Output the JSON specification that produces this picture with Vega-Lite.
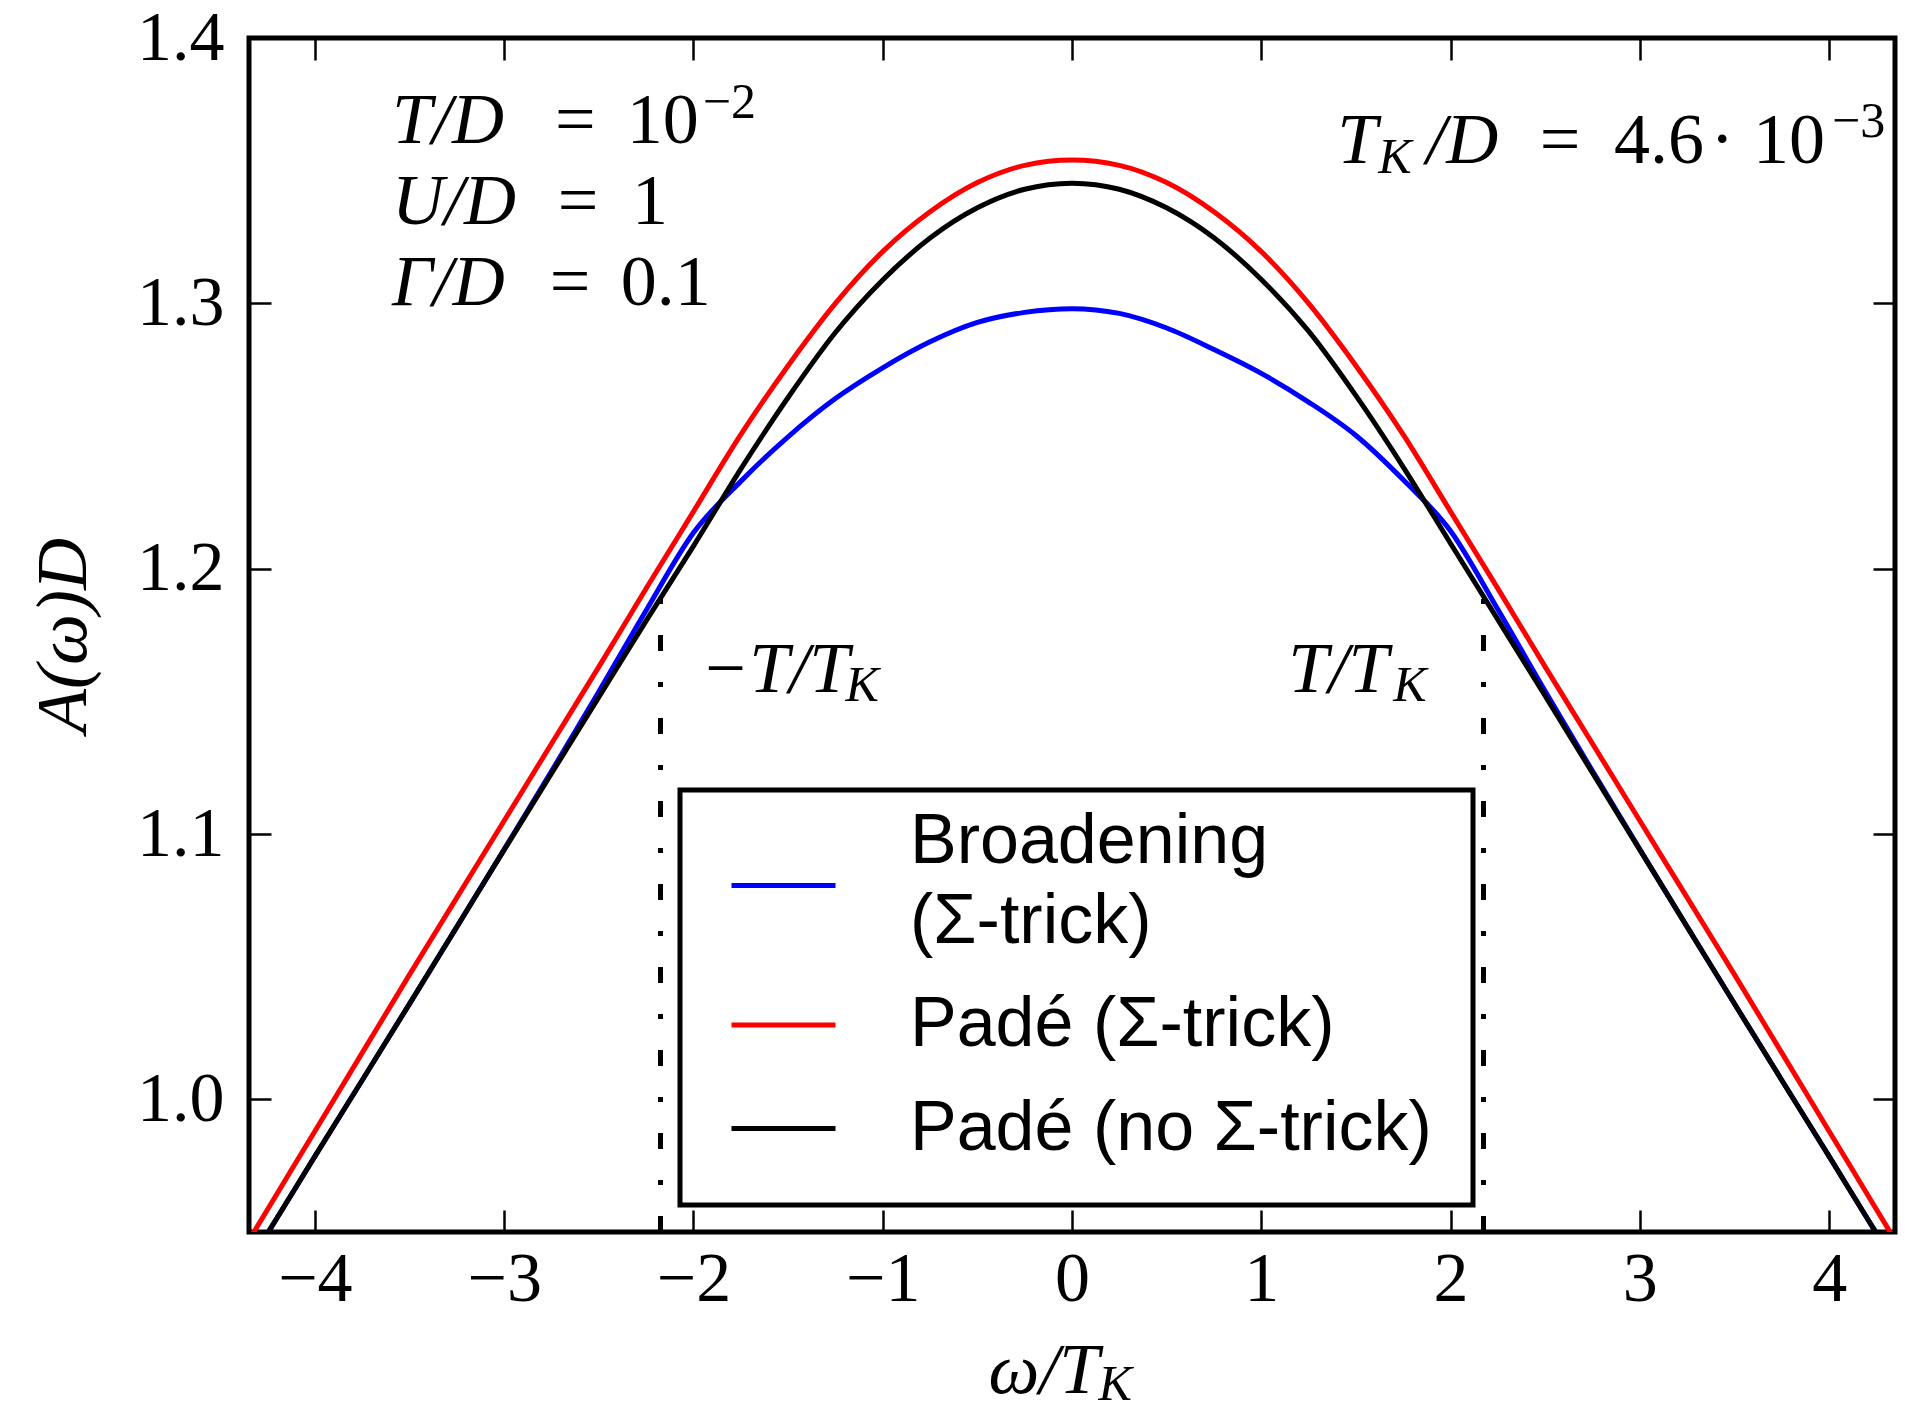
{
  "$schema": "https://vega.github.io/schema/vega-lite/v6.json",
  "width": 1646,
  "height": 1194,
  "autosize": {"type": "none"},
  "padding": {"left": 249, "top": 38, "right": 10, "bottom": 180},
  "background": "white",
  "config": {
    "view": {"stroke": "black", "strokeWidth": 5},
    "axis": {
      "domain": false, "grid": false, "tickColor": "black", "tickWidth": 2.5, "tickSize": -22,
      "labelFont": "Liberation Serif", "labelFontSize": 70, "labelColor": "black",
      "labelFlush": false, "labelOverlap": false, "labelBound": false,
      "titleFont": "Liberation Serif", "titleFontSize": 72, "titleFontStyle": "italic",
      "titleFontWeight": "normal", "titleColor": "black"
    },
    "text": {"color": "black", "font": "Liberation Serif", "fontSize": 72, "align": "left", "baseline": "alphabetic"}
  },
  "datasets": {
    "curves": [
      {"s": "Broadening (Σ-trick)", "w": -4.5, "A": 0.921},
      {"s": "Broadening (Σ-trick)", "w": -4.25, "A": 0.9495},
      {"s": "Broadening (Σ-trick)", "w": -4.0, "A": 0.9785},
      {"s": "Broadening (Σ-trick)", "w": -3.75, "A": 1.0072},
      {"s": "Broadening (Σ-trick)", "w": -3.5, "A": 1.036},
      {"s": "Broadening (Σ-trick)", "w": -3.25, "A": 1.065},
      {"s": "Broadening (Σ-trick)", "w": -3.0, "A": 1.0942},
      {"s": "Broadening (Σ-trick)", "w": -2.75, "A": 1.1236},
      {"s": "Broadening (Σ-trick)", "w": -2.5, "A": 1.1536},
      {"s": "Broadening (Σ-trick)", "w": -2.25, "A": 1.1842},
      {"s": "Broadening (Σ-trick)", "w": -2.0, "A": 1.2135},
      {"s": "Broadening (Σ-trick)", "w": -1.75, "A": 1.2329},
      {"s": "Broadening (Σ-trick)", "w": -1.5, "A": 1.2497},
      {"s": "Broadening (Σ-trick)", "w": -1.25, "A": 1.2641},
      {"s": "Broadening (Σ-trick)", "w": -1.0, "A": 1.2757},
      {"s": "Broadening (Σ-trick)", "w": -0.75, "A": 1.2855},
      {"s": "Broadening (Σ-trick)", "w": -0.5, "A": 1.2928},
      {"s": "Broadening (Σ-trick)", "w": -0.25, "A": 1.2966},
      {"s": "Broadening (Σ-trick)", "w": 0.0, "A": 1.298},
      {"s": "Broadening (Σ-trick)", "w": 0.25, "A": 1.2962},
      {"s": "Broadening (Σ-trick)", "w": 0.5, "A": 1.2907},
      {"s": "Broadening (Σ-trick)", "w": 0.75, "A": 1.2826},
      {"s": "Broadening (Σ-trick)", "w": 1.0, "A": 1.2736},
      {"s": "Broadening (Σ-trick)", "w": 1.25, "A": 1.2628},
      {"s": "Broadening (Σ-trick)", "w": 1.5, "A": 1.2502},
      {"s": "Broadening (Σ-trick)", "w": 1.75, "A": 1.2335},
      {"s": "Broadening (Σ-trick)", "w": 2.0, "A": 1.2142},
      {"s": "Broadening (Σ-trick)", "w": 2.25, "A": 1.1846},
      {"s": "Broadening (Σ-trick)", "w": 2.5, "A": 1.1538},
      {"s": "Broadening (Σ-trick)", "w": 2.75, "A": 1.1237},
      {"s": "Broadening (Σ-trick)", "w": 3.0, "A": 1.0942},
      {"s": "Broadening (Σ-trick)", "w": 3.25, "A": 1.065},
      {"s": "Broadening (Σ-trick)", "w": 3.5, "A": 1.036},
      {"s": "Broadening (Σ-trick)", "w": 3.75, "A": 1.0072},
      {"s": "Broadening (Σ-trick)", "w": 4.0, "A": 0.9785},
      {"s": "Broadening (Σ-trick)", "w": 4.25, "A": 0.9495},
      {"s": "Broadening (Σ-trick)", "w": 4.5, "A": 0.921},
      {"s": "Padé (Σ-trick)", "w": -4.5, "A": 0.929},
      {"s": "Padé (Σ-trick)", "w": -4.25, "A": 0.9585},
      {"s": "Padé (Σ-trick)", "w": -4.0, "A": 0.988},
      {"s": "Padé (Σ-trick)", "w": -3.75, "A": 1.0175},
      {"s": "Padé (Σ-trick)", "w": -3.5, "A": 1.047},
      {"s": "Padé (Σ-trick)", "w": -3.25, "A": 1.076},
      {"s": "Padé (Σ-trick)", "w": -3.0, "A": 1.105},
      {"s": "Padé (Σ-trick)", "w": -2.75, "A": 1.134},
      {"s": "Padé (Σ-trick)", "w": -2.5, "A": 1.163},
      {"s": "Padé (Σ-trick)", "w": -2.25, "A": 1.1925},
      {"s": "Padé (Σ-trick)", "w": -2.0, "A": 1.2215},
      {"s": "Padé (Σ-trick)", "w": -1.75, "A": 1.2505},
      {"s": "Padé (Σ-trick)", "w": -1.5, "A": 1.2765},
      {"s": "Padé (Σ-trick)", "w": -1.25, "A": 1.300},
      {"s": "Padé (Σ-trick)", "w": -1.0, "A": 1.3195},
      {"s": "Padé (Σ-trick)", "w": -0.75, "A": 1.3345},
      {"s": "Padé (Σ-trick)", "w": -0.5, "A": 1.3455},
      {"s": "Padé (Σ-trick)", "w": -0.25, "A": 1.352},
      {"s": "Padé (Σ-trick)", "w": 0.0, "A": 1.354},
      {"s": "Padé (Σ-trick)", "w": 0.25, "A": 1.352},
      {"s": "Padé (Σ-trick)", "w": 0.5, "A": 1.3455},
      {"s": "Padé (Σ-trick)", "w": 0.75, "A": 1.3345},
      {"s": "Padé (Σ-trick)", "w": 1.0, "A": 1.3195},
      {"s": "Padé (Σ-trick)", "w": 1.25, "A": 1.300},
      {"s": "Padé (Σ-trick)", "w": 1.5, "A": 1.2765},
      {"s": "Padé (Σ-trick)", "w": 1.75, "A": 1.2505},
      {"s": "Padé (Σ-trick)", "w": 2.0, "A": 1.2215},
      {"s": "Padé (Σ-trick)", "w": 2.25, "A": 1.1925},
      {"s": "Padé (Σ-trick)", "w": 2.5, "A": 1.163},
      {"s": "Padé (Σ-trick)", "w": 2.75, "A": 1.134},
      {"s": "Padé (Σ-trick)", "w": 3.0, "A": 1.105},
      {"s": "Padé (Σ-trick)", "w": 3.25, "A": 1.076},
      {"s": "Padé (Σ-trick)", "w": 3.5, "A": 1.047},
      {"s": "Padé (Σ-trick)", "w": 3.75, "A": 1.0175},
      {"s": "Padé (Σ-trick)", "w": 4.0, "A": 0.988},
      {"s": "Padé (Σ-trick)", "w": 4.25, "A": 0.9585},
      {"s": "Padé (Σ-trick)", "w": 4.5, "A": 0.929},
      {"s": "Padé (no Σ-trick)", "w": -4.5, "A": 0.921},
      {"s": "Padé (no Σ-trick)", "w": -4.25, "A": 0.9495},
      {"s": "Padé (no Σ-trick)", "w": -4.0, "A": 0.9785},
      {"s": "Padé (no Σ-trick)", "w": -3.75, "A": 1.0072},
      {"s": "Padé (no Σ-trick)", "w": -3.5, "A": 1.036},
      {"s": "Padé (no Σ-trick)", "w": -3.25, "A": 1.065},
      {"s": "Padé (no Σ-trick)", "w": -3.0, "A": 1.094},
      {"s": "Padé (no Σ-trick)", "w": -2.75, "A": 1.1228},
      {"s": "Padé (no Σ-trick)", "w": -2.5, "A": 1.1516},
      {"s": "Padé (no Σ-trick)", "w": -2.25, "A": 1.1803},
      {"s": "Padé (no Σ-trick)", "w": -2.0, "A": 1.2085},
      {"s": "Padé (no Σ-trick)", "w": -1.75, "A": 1.2375},
      {"s": "Padé (no Σ-trick)", "w": -1.5, "A": 1.2645},
      {"s": "Padé (no Σ-trick)", "w": -1.25, "A": 1.289},
      {"s": "Padé (no Σ-trick)", "w": -1.0, "A": 1.3088},
      {"s": "Padé (no Σ-trick)", "w": -0.75, "A": 1.3246},
      {"s": "Padé (no Σ-trick)", "w": -0.5, "A": 1.336},
      {"s": "Padé (no Σ-trick)", "w": -0.25, "A": 1.343},
      {"s": "Padé (no Σ-trick)", "w": 0.0, "A": 1.3453},
      {"s": "Padé (no Σ-trick)", "w": 0.25, "A": 1.343},
      {"s": "Padé (no Σ-trick)", "w": 0.5, "A": 1.336},
      {"s": "Padé (no Σ-trick)", "w": 0.75, "A": 1.3247},
      {"s": "Padé (no Σ-trick)", "w": 1.0, "A": 1.309},
      {"s": "Padé (no Σ-trick)", "w": 1.25, "A": 1.2895},
      {"s": "Padé (no Σ-trick)", "w": 1.5, "A": 1.2652},
      {"s": "Padé (no Σ-trick)", "w": 1.75, "A": 1.2383},
      {"s": "Padé (no Σ-trick)", "w": 2.0, "A": 1.2095},
      {"s": "Padé (no Σ-trick)", "w": 2.25, "A": 1.1808},
      {"s": "Padé (no Σ-trick)", "w": 2.5, "A": 1.152},
      {"s": "Padé (no Σ-trick)", "w": 2.75, "A": 1.123},
      {"s": "Padé (no Σ-trick)", "w": 3.0, "A": 1.094},
      {"s": "Padé (no Σ-trick)", "w": 3.25, "A": 1.065},
      {"s": "Padé (no Σ-trick)", "w": 3.5, "A": 1.036},
      {"s": "Padé (no Σ-trick)", "w": 3.75, "A": 1.0072},
      {"s": "Padé (no Σ-trick)", "w": 4.0, "A": 0.9785},
      {"s": "Padé (no Σ-trick)", "w": 4.25, "A": 0.9495},
      {"s": "Padé (no Σ-trick)", "w": 4.5, "A": 0.921}
    ],
    "tmarks": [{"w": -2.174}, {"w": 2.174}]
  },
  "layer": [
    {
      "data": {"name": "curves"},
      "transform": [{"filter": "datum.s == 'Broadening (Σ-trick)'"}],
      "mark": {"type": "line", "strokeWidth": 5, "clip": true, "interpolate": "monotone"},
      "encoding": {
        "x": {"field": "w", "type": "quantitative",
              "scale": {"domain": [-4.348, 4.348], "nice": false, "zero": false},
              "axis": {"orient": "bottom", "values": [-4, -3, -2, -1, 0, 1, 2, 3, 4], "format": "d", "title": null, "labelPadding": 35}},
        "y": {"field": "A", "type": "quantitative",
              "scale": {"domain": [0.95, 1.4], "nice": false, "zero": false},
              "axis": {"orient": "left", "values": [1.0, 1.1, 1.2, 1.3, 1.4], "format": ".1f", "title": "A(ω)D", "labelPadding": 47, "titlePadding": 36}},
        "color": {"field": "s", "type": "nominal",
                  "scale": {"domain": ["Broadening (Σ-trick)", "Padé (Σ-trick)", "Padé (no Σ-trick)"], "range": ["#0000ff", "#ff0000", "#000000"]},
                  "legend": {
                    "orient": "none", "legendX": 431, "legendY": 752, "title": null,
                    "strokeColor": "black", "padding": 41, "fillColor": "white",
                    "labelFont": "Liberation Sans", "labelFontSize": 70, "labelColor": "black", "labelLimit": 2000,
                    "labelOffset": 72, "rowPadding": 13.5, "symbolOffset": 8,
                    "symbolType": "stroke", "symbolSize": 10816, "symbolStrokeWidth": 5,
                    "labelExpr": "datum.value == 'Broadening (Σ-trick)' ? ['Broadening', '(Σ-trick)'] : datum.label",
                    "encode": {
                      "legend": {"update": {"strokeWidth": {"value": 5}}},
                      "labels": {"update": {
                        "dy": {"signal": "datum.value == 'Broadening (Σ-trick)' ? -44 : 0"},
                        "lineHeight": {"value": 80}
                      }}
                    }
                  }}
      }
    },
    {
      "data": {"name": "curves"},
      "transform": [{"filter": "datum.s == 'Padé (Σ-trick)'"}],
      "mark": {"type": "line", "strokeWidth": 5, "clip": true, "interpolate": "monotone"},
      "encoding": {
        "x": {"field": "w", "type": "quantitative",
              "axis": {"orient": "top", "values": [-4, -3, -2, -1, 0, 1, 2, 3, 4], "labels": false, "title": null}},
        "y": {"field": "A", "type": "quantitative",
              "axis": {"orient": "right", "values": [1.0, 1.1, 1.2, 1.3, 1.4], "labels": false, "title": null}},
        "color": {"field": "s", "type": "nominal"}
      }
    },
    {
      "data": {"name": "curves"},
      "transform": [{"filter": "datum.s == 'Padé (no Σ-trick)'"}],
      "mark": {"type": "line", "strokeWidth": 5, "clip": true, "interpolate": "monotone"},
      "encoding": {
        "x": {"field": "w", "type": "quantitative", "axis": null},
        "y": {"field": "A", "type": "quantitative", "axis": null},
        "color": {"field": "s", "type": "nominal"}
      }
    },
    {
      "data": {"name": "tmarks"},
      "mark": {"type": "rule", "color": "black", "strokeWidth": 5, "strokeDash": [16, 31, 5, 31], "strokeCap": "butt"},
      "encoding": {
        "x": {"field": "w", "type": "quantitative", "axis": null},
        "y": {"datum": 0.95, "type": "quantitative", "axis": null},
        "y2": {"datum": 1.189}
      }
    },
    {"data": {"values": [{}]}, "mark": {"type": "text", "text": "T/D", "fontStyle": "italic"},
     "encoding": {"x": {"datum": -3.593, "type": "quantitative", "axis": null}, "y": {"datum": 1.3604, "type": "quantitative", "axis": null}}},
    {"data": {"values": [{}]}, "mark": {"type": "text", "text": "="},
     "encoding": {"x": {"datum": -2.732, "type": "quantitative", "axis": null}, "y": {"datum": 1.3604, "type": "quantitative", "axis": null}}},
    {"data": {"values": [{}]}, "mark": {"type": "text", "text": "10"},
     "encoding": {"x": {"datum": -2.352, "type": "quantitative", "axis": null}, "y": {"datum": 1.3604, "type": "quantitative", "axis": null}}},
    {"data": {"values": [{}]}, "mark": {"type": "text", "text": "−2", "fontSize": 50},
     "encoding": {"x": {"datum": -1.951, "type": "quantitative", "axis": null}, "y": {"datum": 1.3698, "type": "quantitative", "axis": null}}},
    {"data": {"values": [{}]}, "mark": {"type": "text", "text": "U/D", "fontStyle": "italic"},
     "encoding": {"x": {"datum": -3.593, "type": "quantitative", "axis": null}, "y": {"datum": 1.3299, "type": "quantitative", "axis": null}}},
    {"data": {"values": [{}]}, "mark": {"type": "text", "text": "="},
     "encoding": {"x": {"datum": -2.717, "type": "quantitative", "axis": null}, "y": {"datum": 1.3299, "type": "quantitative", "axis": null}}},
    {"data": {"values": [{}]}, "mark": {"type": "text", "text": "1"},
     "encoding": {"x": {"datum": -2.325, "type": "quantitative", "axis": null}, "y": {"datum": 1.3299, "type": "quantitative", "axis": null}}},
    {"data": {"values": [{}]}, "mark": {"type": "text", "text": "Γ/D", "fontStyle": "italic"},
     "encoding": {"x": {"datum": -3.593, "type": "quantitative", "axis": null}, "y": {"datum": 1.2994, "type": "quantitative", "axis": null}}},
    {"data": {"values": [{}]}, "mark": {"type": "text", "text": "="},
     "encoding": {"x": {"datum": -2.759, "type": "quantitative", "axis": null}, "y": {"datum": 1.2994, "type": "quantitative", "axis": null}}},
    {"data": {"values": [{}]}, "mark": {"type": "text", "text": "0.1"},
     "encoding": {"x": {"datum": -2.384, "type": "quantitative", "axis": null}, "y": {"datum": 1.2994, "type": "quantitative", "axis": null}}},
    {"data": {"values": [{}]}, "mark": {"type": "text", "text": "T", "fontStyle": "italic"},
     "encoding": {"x": {"datum": 1.402, "type": "quantitative", "axis": null}, "y": {"datum": 1.3529, "type": "quantitative", "axis": null}}},
    {"data": {"values": [{}]}, "mark": {"type": "text", "text": "K", "fontStyle": "italic", "fontSize": 50},
     "encoding": {"x": {"datum": 1.618, "type": "quantitative", "axis": null}, "y": {"datum": 1.3491, "type": "quantitative", "axis": null}}},
    {"data": {"values": [{}]}, "mark": {"type": "text", "text": "/D", "fontStyle": "italic"},
     "encoding": {"x": {"datum": 1.872, "type": "quantitative", "axis": null}, "y": {"datum": 1.3529, "type": "quantitative", "axis": null}}},
    {"data": {"values": [{}]}, "mark": {"type": "text", "text": "="},
     "encoding": {"x": {"datum": 2.471, "type": "quantitative", "axis": null}, "y": {"datum": 1.3529, "type": "quantitative", "axis": null}}},
    {"data": {"values": [{}]}, "mark": {"type": "text", "text": "4.6"},
     "encoding": {"x": {"datum": 2.864, "type": "quantitative", "axis": null}, "y": {"datum": 1.3529, "type": "quantitative", "axis": null}}},
    {"data": {"values": [{}]}, "mark": {"type": "text", "text": "·", "align": "center"},
     "encoding": {"x": {"datum": 3.435, "type": "quantitative", "axis": null}, "y": {"datum": 1.3529, "type": "quantitative", "axis": null}}},
    {"data": {"values": [{}]}, "mark": {"type": "text", "text": "10"},
     "encoding": {"x": {"datum": 3.598, "type": "quantitative", "axis": null}, "y": {"datum": 1.3529, "type": "quantitative", "axis": null}}},
    {"data": {"values": [{}]}, "mark": {"type": "text", "text": "−3", "fontSize": 50},
     "encoding": {"x": {"datum": 4.015, "type": "quantitative", "axis": null}, "y": {"datum": 1.3627, "type": "quantitative", "axis": null}}},
    {"data": {"values": [{}]}, "mark": {"type": "text", "text": "−T/T", "fontStyle": "italic"},
     "encoding": {"x": {"datum": -1.962, "type": "quantitative", "axis": null}, "y": {"datum": 1.1535, "type": "quantitative", "axis": null}}},
    {"data": {"values": [{}]}, "mark": {"type": "text", "text": "K", "fontStyle": "italic", "fontSize": 50},
     "encoding": {"x": {"datum": -1.196, "type": "quantitative", "axis": null}, "y": {"datum": 1.150, "type": "quantitative", "axis": null}}},
    {"data": {"values": [{}]}, "mark": {"type": "text", "text": "T/T", "fontStyle": "italic"},
     "encoding": {"x": {"datum": 1.143, "type": "quantitative", "axis": null}, "y": {"datum": 1.1535, "type": "quantitative", "axis": null}}},
    {"data": {"values": [{}]}, "mark": {"type": "text", "text": "K", "fontStyle": "italic", "fontSize": 50},
     "encoding": {"x": {"datum": 1.697, "type": "quantitative", "axis": null}, "y": {"datum": 1.150, "type": "quantitative", "axis": null}}},
    {"data": {"values": [{}]}, "mark": {"type": "text", "text": "ω/T", "fontStyle": "italic"},
     "encoding": {"x": {"datum": -0.441, "type": "quantitative", "axis": null}, "y": {"datum": 0.8892, "type": "quantitative", "axis": null}}},
    {"data": {"values": [{}]}, "mark": {"type": "text", "text": "K", "fontStyle": "italic", "fontSize": 50},
     "encoding": {"x": {"datum": 0.140, "type": "quantitative", "axis": null}, "y": {"datum": 0.8868, "type": "quantitative", "axis": null}}}
  ],
  "resolve": {"axis": {"x": "independent", "y": "independent"}}
}
